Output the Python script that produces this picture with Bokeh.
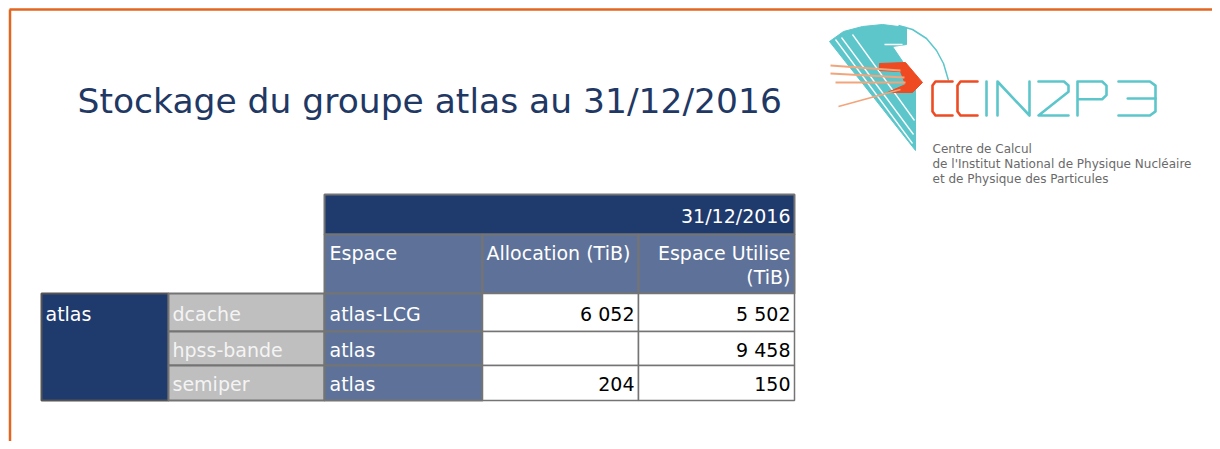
from bokeh.plotting import figure
from bokeh.models import Range1d, ColumnDataSource
from bokeh.core.properties import value
from bokeh.embed import file_html
from bokeh.resources import INLINE

# ---------------- data ----------------
title = "Stockage du groupe atlas au 31/12/2016"
date_label = "31/12/2016"
header_cols = ["Espace", "Allocation (TiB)", "Espace Utilise"]
group_name = "atlas"
storage = ["dcache", "hpss-bande", "semiper"]
espace = ["atlas-LCG", "atlas", "atlas"]
allocation = [6052, None, 204]
utilise = [5502, 9458, 150]
logo_lines = ["Centre de Calcul",
              "de  l'Institut National de Physique Nucléaire",
              "et de Physique des Particules"]

# ---------------- styling / layout ----------------
W, H = 1212, 441
FONT = value("DejaVu Sans")
NAVY = "#1F3A6D"
MID = "#5E7299"
GRAY = "#BFBFBF"
BORDER = "#747474"
ORANGE = "#E2661F"
TS = "19px"

col_edges = [41, 168, 324, 482, 638, 794]
hdr_edges = [194, 234, 293]
row_edges = [293, 331, 365, 400]


def fmt(v):
    return "" if v is None else f"{v:,}".replace(",", " ")


p = figure(width=W, height=H, output_backend="svg", toolbar_location=None,
           x_range=Range1d(0, W), y_range=Range1d(H, 0), min_border=0)
p.axis.visible = False
p.grid.visible = False
p.outline_line_color = None
p.background_fill_color = "white"
p.border_fill_color = "white"

# orange frame
p.line([9, W], [9, 9], line_color=ORANGE, line_width=2.5)
p.line([9.5, 9.5], [9, H], line_color=ORANGE, line_width=2.5)

# title
p.text(x=[77], y=[100], text=[title], text_font=FONT, text_font_size="34.5px",
       text_color="#1F3864", text_baseline="alphabetic", text_align="left")

# ---------------- table ----------------
tops = row_edges[:-1]
bots = row_edges[1:]
mids = [(a + b) / 2 + 1 for a, b in zip(tops, bots)]

# header cells
p.quad(left=[col_edges[2]], right=[col_edges[5]], top=[hdr_edges[0]], bottom=[hdr_edges[1]],
       fill_color=NAVY, line_color=BORDER, line_width=2)
p.quad(left=col_edges[2:5], right=col_edges[3:6],
       top=[hdr_edges[1]] * 3, bottom=[hdr_edges[2]] * 3,
       fill_color=MID, line_color=BORDER, line_width=2)
p.text(x=[col_edges[5] - 4], y=[(hdr_edges[0] + hdr_edges[1]) / 2 + 1], text=[date_label],
       text_font=FONT, text_font_size=TS, text_color="white", text_align="right", text_baseline="middle")
p.text(x=[col_edges[2] + 5, col_edges[3] + 4], y=[252, 252], text=header_cols[:2],
       text_font=FONT, text_font_size=TS, text_color="white", text_align="left", text_baseline="middle")
p.text(x=[col_edges[5] - 4] * 2, y=[252, 276], text=[header_cols[2], "(TiB)"],
       text_font=FONT, text_font_size=TS, text_color="white", text_align="right", text_baseline="middle")

# group cell
p.quad(left=[col_edges[0]], right=[col_edges[1]], top=[row_edges[0]], bottom=[row_edges[-1]],
       fill_color=NAVY, line_color="#555555", line_width=2)
p.text(x=[col_edges[0] + 4], y=[mids[0]], text=[group_name], text_font=FONT, text_font_size=TS,
       text_color="white", text_align="left", text_baseline="middle")

src = ColumnDataSource(dict(
    top=tops, bottom=bots, mid=mids,
    storage=storage, espace=espace,
    alloc=[fmt(v) for v in allocation], used=[fmt(v) for v in utilise],
))

p.quad(left=col_edges[1], right=col_edges[2], top="top", bottom="bottom", source=src,
       fill_color=GRAY, line_color=BORDER, line_width=2)
p.quad(left=col_edges[2], right=col_edges[3], top="top", bottom="bottom", source=src,
       fill_color=MID, line_color=BORDER, line_width=2)
p.quad(left=col_edges[3], right=col_edges[4], top="top", bottom="bottom", source=src,
       fill_color="white", line_color=BORDER, line_width=1.5)
p.quad(left=col_edges[4], right=col_edges[5], top="top", bottom="bottom", source=src,
       fill_color="white", line_color=BORDER, line_width=1.5)

p.text(x=col_edges[1] + 4, y="mid", text="storage", source=src, text_font=FONT, text_font_size=TS,
       text_color="#F4F4F4", text_align="left", text_baseline="middle")
p.text(x=col_edges[2] + 5, y="mid", text="espace", source=src, text_font=FONT, text_font_size=TS,
       text_color="white", text_align="left", text_baseline="middle")
p.text(x=col_edges[4] - 4, y="mid", text="alloc", source=src, text_font=FONT, text_font_size=TS,
       text_color="black", text_align="right", text_baseline="middle")
p.text(x=col_edges[5] - 4, y="mid", text="used", source=src, text_font=FONT, text_font_size=TS,
       text_color="black", text_align="right", text_baseline="middle")

# ---------------- logo (decoration) ----------------
CYAN = "#5CC6CB"
RED = "#EE4B23"
# main swoosh
p.patch([843, 862, 882, 906, 906, 892, 915, 915, 829],
        [31, 26, 24, 27, 44, 46, 80, 150, 41], fill_color=CYAN, line_color=CYAN, line_width=1)
# thin white gaps in the swoosh
p.multi_line(xs=[[835, 912], [841, 913], [852, 914]],
             ys=[[39, 143], [37, 134], [34, 120]], line_color="white", line_width=1.3)
p.line([884, 902], [44, 44], line_color="white", line_width=1.5)
# thin arc
arc_x = [898, 912, 926, 936, 943, 948]
arc_y = [25, 29, 38, 50, 63, 80]
p.line(arc_x, arc_y, line_color=CYAN, line_width=1.5)
# red arrow
p.patch([879, 905, 922, 912, 887, 905, 900, 879],
        [63, 62, 82, 92, 92, 84, 71, 70], fill_color=RED, line_color=RED, line_width=1)
# light orange rays
p.multi_line(xs=[[830, 900], [830, 904], [835, 905], [838, 900]],
             ys=[[65, 70], [73, 77], [82, 82], [106, 89]],
             line_color="#F2A57A", line_width=1.8)

# CCIN2P3 lettering as strokes
glyphs = {
    "C": [[(1, 0), (0.15, 0), (0, 0.12), (0, 0.88), (0.15, 1), (1, 1)]],
    "I": [[(0.5, 0), (0.5, 1)]],
    "N": [[(0, 1), (0, 0), (1, 1), (1, 0)]],
    "2": [[(0, 0), (0.85, 0), (1, 0.12), (1, 0.3), (0, 1), (1, 1)]],
    "P": [[(0, 1), (0, 0), (0.85, 0), (1, 0.12), (1, 0.4), (0.85, 0.52), (0, 0.52)]],
    "3": [[(0, 0), (0.85, 0), (1, 0.12), (1, 0.88), (0.85, 1), (0, 1)], [(0.25, 0.5), (1, 0.5)]],
}
letters = ["C", "C", "I", "N", "2", "P", "3"]
boxes = [(932, 952), (957, 977), (983, 989), (997, 1029), (1038, 1068), (1077, 1106), (1118, 1155)]
lcolors = [RED, RED, CYAN, CYAN, CYAN, CYAN, CYAN]
ly0, ly1 = 81, 115
for ch, (x0, x1), col in zip(letters, boxes, lcolors):
    xs, ys = [], []
    for stroke in glyphs[ch]:
        xs.append([x0 + u * (x1 - x0) for u, _ in stroke])
        ys.append([ly0 + v * (ly1 - ly0) for _, v in stroke])
    p.multi_line(xs=xs, ys=ys, line_color=col, line_width=2.6, line_join="round", line_cap="round")

p.text(x=[932] * 3, y=[148, 163, 178], text=logo_lines, text_font=FONT,
       text_font_size="12px", text_color="#6A6A6A", text_align="left", text_baseline="middle")

open("out.html", "w").write(file_html(p, INLINE))
